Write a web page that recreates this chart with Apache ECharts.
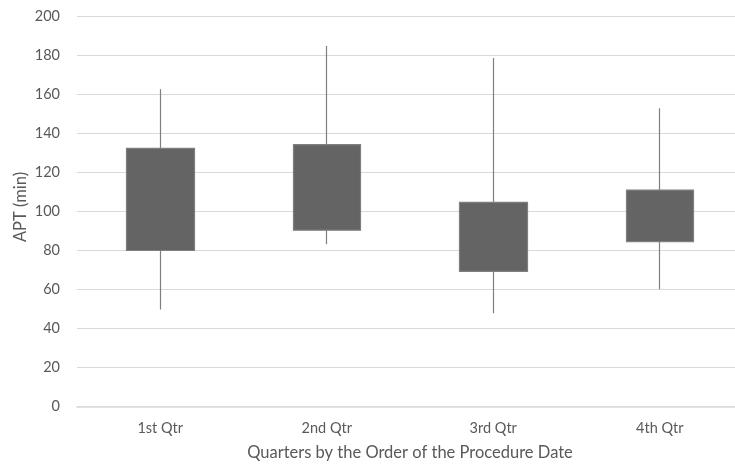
<!DOCTYPE html>
<html>
<head>
<meta charset="utf-8">
<script src="https://cdn.jsdelivr.net/npm/echarts@6/dist/echarts.min.js"></script>
<style>html,body{margin:0;padding:0;background:#fff;overflow:hidden;width:735px;height:467px}#c{width:744px;height:467px}</style>
</head>
<body>
<div id="c"></div>
<script>
var categories = ['1st Qtr', '2nd Qtr', '3rd Qtr', '4th Qtr'];
var q1 = [80, 90.4, 69.3, 84.5];
var q3 = [132.4, 134.3, 104.7, 111.0];
var lows = [49.8, 83.2, 47.8, 60.1];
var highs = [162.7, 184.9, 178.7, 152.9];
var yTicks = { min: 0, max: 200, interval: 20 };
var yTitle = 'APT (min)';
var xTitle = 'Quarters by the Order of the Procedure Date';

var data = categories.map(function (c, i) { return [q1[i], q3[i], lows[i], highs[i]]; });
var font = 'Lato, "Open Sans", sans-serif';
var chart = echarts.init(document.getElementById('c'), null, { renderer: 'canvas' });
chart.setOption({
  animation: false,
  backgroundColor: '#ffffff',
  grid: { left: 77, top: 16.5, bottom: 60.5, right: 1 },
  graphic: [{
    type: 'text',
    x: 21, y: 207,
    rotation: Math.PI / 2,
    style: {
      text: yTitle,
      fill: '#595959',
      font: '16.5px ' + font,
      textAlign: 'center',
      textVerticalAlign: 'middle'
    }
  }],
  xAxis: {
    type: 'category',
    data: categories,
    name: xTitle,
    nameLocation: 'middle',
    nameGap: 38,
    nameTextStyle: { color: '#595959', fontSize: 16.5, fontFamily: font },
    axisLine: { lineStyle: { color: '#d9d9d9', width: 1.5 } },
    axisTick: { show: false },
    axisLabel: { color: '#595959', fontSize: 14.5, fontFamily: font, margin: 14 }
  },
  yAxis: {
    type: 'value',
    min: yTicks.min, max: yTicks.max, interval: yTicks.interval,
    axisLine: { show: false },
    axisTick: { show: false },
    axisLabel: { color: '#595959', fontSize: 14.5, fontFamily: font, margin: 17 },
    splitLine: { lineStyle: { color: '#d9d9d9', width: 1.2 } }
  },
  series: [{
    type: 'candlestick',
    data: data,
    barWidth: 68,
    itemStyle: {
      color: '#646464', color0: '#646464',
      borderColor: '#7f7f7f', borderColor0: '#7f7f7f',
      borderWidth: 1.2
    }
  }]
});
</script>
</body>
</html>
